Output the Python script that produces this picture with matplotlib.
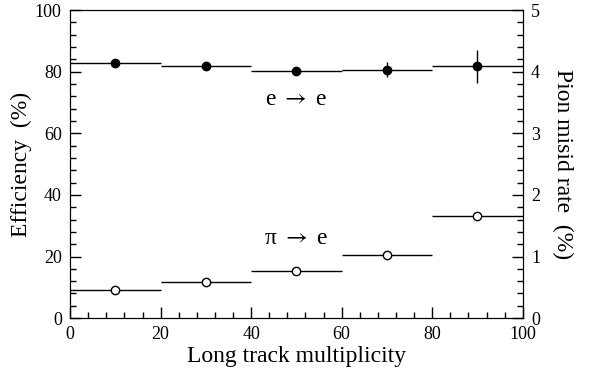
import matplotlib
matplotlib.use('Agg')
import matplotlib.pyplot as plt
from matplotlib.ticker import MultipleLocator

plt.rcParams['font.family'] = ['Liberation Serif', 'DejaVu Serif']
plt.rcParams['mathtext.fontset'] = 'stix'

# bin centres and half widths (long track multiplicity)
mult = [10, 30, 50, 70, 90]
mult_err = [10, 10, 10, 10, 10]

# electron efficiency (%) , left axis
eff = [82.7, 81.8, 80.4, 80.7, 81.8]
eff_err = [0.5, 0.7, 0.9, 2.5, 5.3]

# pion misid rate (%) , right axis
misid = [0.46, 0.59, 0.77, 1.03, 1.65]
misid_err = [0.02, 0.02, 0.03, 0.03, 0.04]

fig = plt.figure(figsize=(5.94, 3.76), dpi=100)
ax = fig.add_axes([0.118, 0.154, 0.762, 0.819])
ax2 = ax.twinx()

ax.errorbar(mult, eff, xerr=mult_err, yerr=eff_err, fmt='o', color='black',
            ms=6, lw=1, capsize=0)
ax2.errorbar(mult, misid, xerr=mult_err, yerr=misid_err, fmt='o', color='black',
             mfc='white', mec='black', ms=6, mew=1, lw=1, capsize=0)

ax.set_xlim(0, 100)
ax.set_ylim(0, 100)
ax2.set_ylim(0, 5)

ax.xaxis.set_major_locator(MultipleLocator(20))
ax.xaxis.set_minor_locator(MultipleLocator(4))
ax.yaxis.set_major_locator(MultipleLocator(20))
ax.yaxis.set_minor_locator(MultipleLocator(4))
ax2.yaxis.set_major_locator(MultipleLocator(1))
ax2.yaxis.set_minor_locator(MultipleLocator(0.2))

for a in (ax, ax2):
    a.tick_params(which='major', direction='in', length=8, width=1, labelsize=13, pad=6)
    a.tick_params(which='minor', direction='in', length=4, width=1)
ax.tick_params(axis='y', which='both', left=True, right=False)
ax2.tick_params(axis='y', which='both', left=False, right=True)

ax.set_xlabel('Long track multiplicity', fontsize=17, labelpad=2)
ax.set_ylabel('Efficiency  (%)', fontsize=17)
ax.yaxis.set_label_coords(-0.085, 0.5)
ax2.set_ylabel('Pion misid rate  (%)', fontsize=17, rotation=270, labelpad=24)

ax.text(50, 71, r'e $\rightarrow$ e', fontsize=17, ha='center', va='center')
ax.text(50, 26, '\u03c0 ' + r'$\rightarrow$ e', fontsize=17, ha='center', va='center')

plt.savefig('out.png', dpi=100)
